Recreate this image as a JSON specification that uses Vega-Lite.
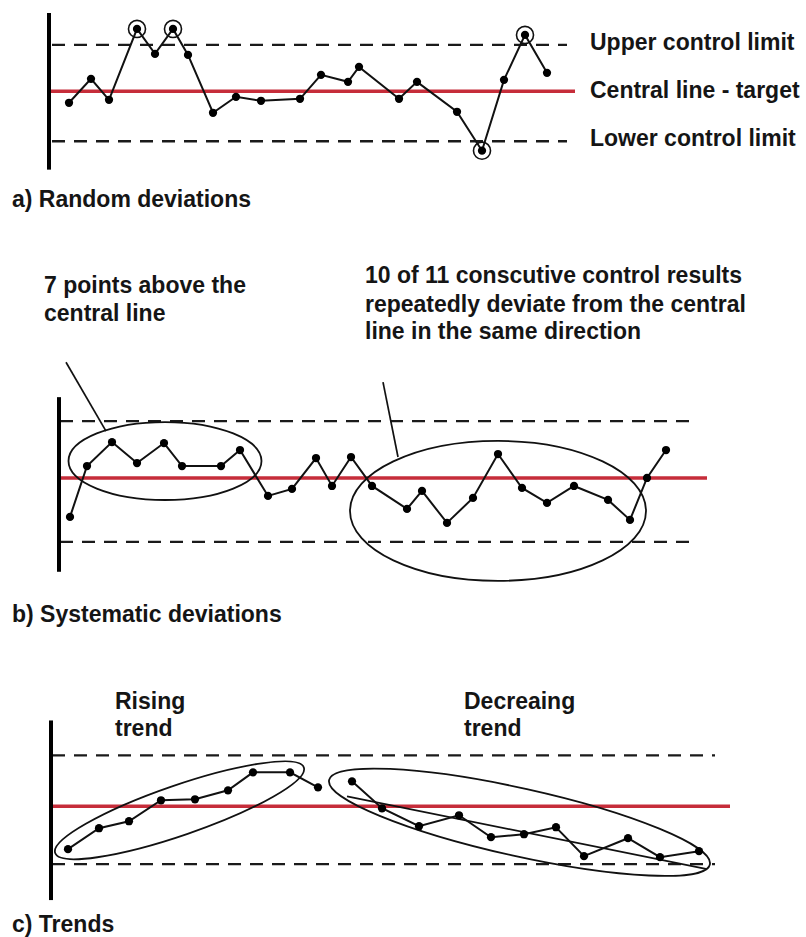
{
  "$schema": "https://vega.github.io/schema/vega-lite/v6.json",
  "width": 806,
  "height": 937,
  "padding": 0,
  "autosize": {"type": "fit", "contains": "padding"},
  "background": "white",
  "config": {"view": {"stroke": null}},
  "datasets": {
    "series": [
      {"panel": "a", "i": 1, "x": 69, "y": 103}, {"panel": "a", "i": 2, "x": 91, "y": 79}, {"panel": "a", "i": 3, "x": 109, "y": 100},
      {"panel": "a", "i": 4, "x": 137, "y": 29}, {"panel": "a", "i": 5, "x": 155, "y": 54}, {"panel": "a", "i": 6, "x": 173, "y": 29},
      {"panel": "a", "i": 7, "x": 188, "y": 55}, {"panel": "a", "i": 8, "x": 213, "y": 113}, {"panel": "a", "i": 9, "x": 236, "y": 97},
      {"panel": "a", "i": 10, "x": 261, "y": 101}, {"panel": "a", "i": 11, "x": 300, "y": 99}, {"panel": "a", "i": 12, "x": 321, "y": 75},
      {"panel": "a", "i": 13, "x": 348, "y": 82}, {"panel": "a", "i": 14, "x": 359, "y": 67}, {"panel": "a", "i": 15, "x": 399, "y": 99},
      {"panel": "a", "i": 16, "x": 417, "y": 82}, {"panel": "a", "i": 17, "x": 457, "y": 112}, {"panel": "a", "i": 18, "x": 482, "y": 151},
      {"panel": "a", "i": 19, "x": 504, "y": 80}, {"panel": "a", "i": 20, "x": 525, "y": 35}, {"panel": "a", "i": 21, "x": 547, "y": 73},
      {"panel": "b", "i": 1, "x": 70, "y": 518}, {"panel": "b", "i": 2, "x": 87, "y": 467}, {"panel": "b", "i": 3, "x": 112, "y": 443},
      {"panel": "b", "i": 4, "x": 137, "y": 464}, {"panel": "b", "i": 5, "x": 164, "y": 444}, {"panel": "b", "i": 6, "x": 182, "y": 467},
      {"panel": "b", "i": 7, "x": 221, "y": 467}, {"panel": "b", "i": 8, "x": 240, "y": 451}, {"panel": "b", "i": 9, "x": 268, "y": 497},
      {"panel": "b", "i": 10, "x": 292, "y": 490}, {"panel": "b", "i": 11, "x": 316, "y": 459}, {"panel": "b", "i": 12, "x": 332, "y": 487},
      {"panel": "b", "i": 13, "x": 351, "y": 458}, {"panel": "b", "i": 14, "x": 372, "y": 487}, {"panel": "b", "i": 15, "x": 407, "y": 510},
      {"panel": "b", "i": 16, "x": 422, "y": 492}, {"panel": "b", "i": 17, "x": 447, "y": 524}, {"panel": "b", "i": 18, "x": 473, "y": 499},
      {"panel": "b", "i": 19, "x": 498, "y": 455}, {"panel": "b", "i": 20, "x": 522, "y": 489}, {"panel": "b", "i": 21, "x": 547, "y": 504},
      {"panel": "b", "i": 22, "x": 574, "y": 487}, {"panel": "b", "i": 23, "x": 608, "y": 501}, {"panel": "b", "i": 24, "x": 630, "y": 521},
      {"panel": "b", "i": 25, "x": 647, "y": 479}, {"panel": "b", "i": 26, "x": 666, "y": 451},
      {"panel": "c1", "i": 1, "x": 68, "y": 851}, {"panel": "c1", "i": 2, "x": 99, "y": 830}, {"panel": "c1", "i": 3, "x": 129, "y": 823},
      {"panel": "c1", "i": 4, "x": 161, "y": 802}, {"panel": "c1", "i": 5, "x": 195, "y": 801}, {"panel": "c1", "i": 6, "x": 228, "y": 792},
      {"panel": "c1", "i": 7, "x": 253, "y": 774}, {"panel": "c1", "i": 8, "x": 290, "y": 774}, {"panel": "c1", "i": 9, "x": 318, "y": 789},
      {"panel": "c2", "i": 1, "x": 352, "y": 783}, {"panel": "c2", "i": 2, "x": 382, "y": 810}, {"panel": "c2", "i": 3, "x": 419, "y": 828},
      {"panel": "c2", "i": 4, "x": 459, "y": 817}, {"panel": "c2", "i": 5, "x": 491, "y": 839}, {"panel": "c2", "i": 6, "x": 524, "y": 836},
      {"panel": "c2", "i": 7, "x": 556, "y": 829}, {"panel": "c2", "i": 8, "x": 584, "y": 858}, {"panel": "c2", "i": 9, "x": 628, "y": 840},
      {"panel": "c2", "i": 10, "x": 660, "y": 859}, {"panel": "c2", "i": 11, "x": 699, "y": 853}
    ],
    "rings": [
      {"x": 137, "y": 29}, {"x": 173, "y": 29}, {"x": 482, "y": 151}, {"x": 525, "y": 35}
    ],
    "centers": [
      {"x": 49, "x2": 575, "y": 91.5},
      {"x": 59, "x2": 707, "y": 479},
      {"x": 51, "x2": 730, "y": 808}
    ],
    "limits": [
      {"x": 52, "x2": 567, "y": 45},
      {"x": 52, "x2": 567, "y": 141.5},
      {"x": 60, "x2": 695, "y": 422},
      {"x": 60, "x2": 695, "y": 543},
      {"x": 52, "x2": 715, "y": 757},
      {"x": 52, "x2": 715, "y": 866}
    ],
    "axes": [
      {"x": 49, "y": 13, "y2": 170},
      {"x": 59, "y": 398, "y2": 573},
      {"x": 51, "y": 722, "y2": 902}
    ],
    "leaders": [
      {"x": 66, "y": 363, "x2": 106, "y2": 432},
      {"x": 383, "y": 383, "x2": 398, "y2": 458},
      {"x": 347, "y": 798, "x2": 707, "y2": 871}
    ],
    "labels": [
      {"x": 590, "y": 43, "text": "Upper control limit"},
      {"x": 590, "y": 91, "text": "Central line - target"},
      {"x": 590, "y": 139, "text": "Lower  control limit"},
      {"x": 12, "y": 200, "text": "a) Random deviations"},
      {"x": 44, "y": 287, "text": "7 points above the"},
      {"x": 44, "y": 315, "text": "central line"},
      {"x": 365, "y": 277, "text": "10 of 11 conscutive control results"},
      {"x": 365, "y": 306, "text": "repeatedly deviate from the central"},
      {"x": 365, "y": 333, "text": "line in the same direction"},
      {"x": 12, "y": 616, "text": "b) Systematic deviations"},
      {"x": 115, "y": 704, "text": "Rising"},
      {"x": 115, "y": 731, "text": "trend"},
      {"x": 464, "y": 704, "text": "Decreaing"},
      {"x": 464, "y": 731, "text": "trend"},
      {"x": 12, "y": 927, "text": "c) Trends"}
    ]
  },
  "encoding": {
    "x": {"field": "x", "type": "quantitative", "scale": {"domain": [0, 806], "nice": false, "zero": false}, "axis": null},
    "y": {"field": "y", "type": "quantitative", "scale": {"domain": [0, 937], "nice": false, "zero": false, "reverse": true}, "axis": null}
  },
  "layer": [
    {
      "data": {"name": "centers"},
      "mark": {"type": "rule", "color": "#c62d3a", "strokeWidth": 3.5},
      "encoding": {"x2": {"field": "x2"}}
    },
    {
      "data": {"name": "limits"},
      "mark": {"type": "rule", "color": "#1a1a1a", "strokeWidth": 2.4, "strokeDash": [13, 9]},
      "encoding": {"x2": {"field": "x2"}}
    },
    {
      "data": {"name": "axes"},
      "mark": {"type": "rule", "color": "#000000", "strokeWidth": 4},
      "encoding": {"y2": {"field": "y2"}}
    },
    {
      "data": {"values": [{"x": 165, "y": 462}]},
      "mark": {"type": "point", "filled": false, "color": "#111111", "strokeWidth": 1.8, "opacity": 1,
        "shape": "M -1 0 C -1 -0.2231 -0.5523 -0.404 0 -0.404 C 0.5523 -0.404 1 -0.2231 1 0 C 1 0.2231 0.5523 0.404 0 0.404 C -0.5523 0.404 -1 0.2231 -1 0 Z",
        "size": 37249}
    },
    {
      "data": {"values": [{"x": 498, "y": 512}]},
      "mark": {"type": "point", "filled": false, "color": "#111111", "strokeWidth": 1.8, "opacity": 1,
        "shape": "M -1 0 C -1 -0.2612 -0.5523 -0.473 0 -0.473 C 0.5523 -0.473 1 -0.2612 1 0 C 1 0.2612 0.5523 0.473 0 0.473 C -0.5523 0.473 -1 0.2612 -1 0 Z",
        "size": 87616}
    },
    {
      "data": {"values": [{"x": 179.5, "y": 812}]},
      "mark": {"type": "point", "filled": false, "color": "#111111", "strokeWidth": 1.8, "opacity": 1, "angle": 341,
        "shape": "M -1 0 C -1 -0.1049 -0.5523 -0.19 0 -0.19 C 0.5523 -0.19 1 -0.1049 1 0 C 1 0.1049 0.5523 0.19 0 0.19 C -0.5523 0.19 -1 0.1049 -1 0 Z",
        "size": 69169}
    },
    {
      "data": {"values": [{"x": 519.5, "y": 824}]},
      "mark": {"type": "point", "filled": false, "color": "#111111", "strokeWidth": 1.8, "opacity": 1, "angle": 12.5,
        "shape": "M -1 0 C -1 -0.0961 -0.5523 -0.174 0 -0.174 C 0.5523 -0.174 1 -0.0961 1 0 C 1 0.0961 0.5523 0.174 0 0.174 C -0.5523 0.174 -1 0.0961 -1 0 Z",
        "size": 152100}
    },
    {
      "data": {"name": "leaders"},
      "mark": {"type": "rule", "color": "#111111", "strokeWidth": 1.7},
      "encoding": {"x2": {"field": "x2"}, "y2": {"field": "y2"}}
    },
    {
      "data": {"name": "series"},
      "mark": {"type": "line", "color": "#111111", "strokeWidth": 2},
      "encoding": {"detail": {"field": "panel"}, "order": {"field": "i", "type": "quantitative"}}
    },
    {
      "data": {"name": "series"},
      "mark": {"type": "point", "filled": true, "color": "#000000", "size": 68, "opacity": 1, "shape": "circle"},
      "encoding": {}
    },
    {
      "data": {"name": "rings"},
      "mark": {"type": "point", "filled": false, "color": "#111111", "size": 290, "strokeWidth": 1.6, "opacity": 1, "shape": "circle"},
      "encoding": {}
    },
    {
      "data": {"name": "labels"},
      "mark": {"type": "text", "align": "left", "baseline": "middle", "font": "Liberation Sans", "fontWeight": "bold", "fontSize": 23, "color": "#151515"},
      "encoding": {"text": {"field": "text"}}
    }
  ]
}
